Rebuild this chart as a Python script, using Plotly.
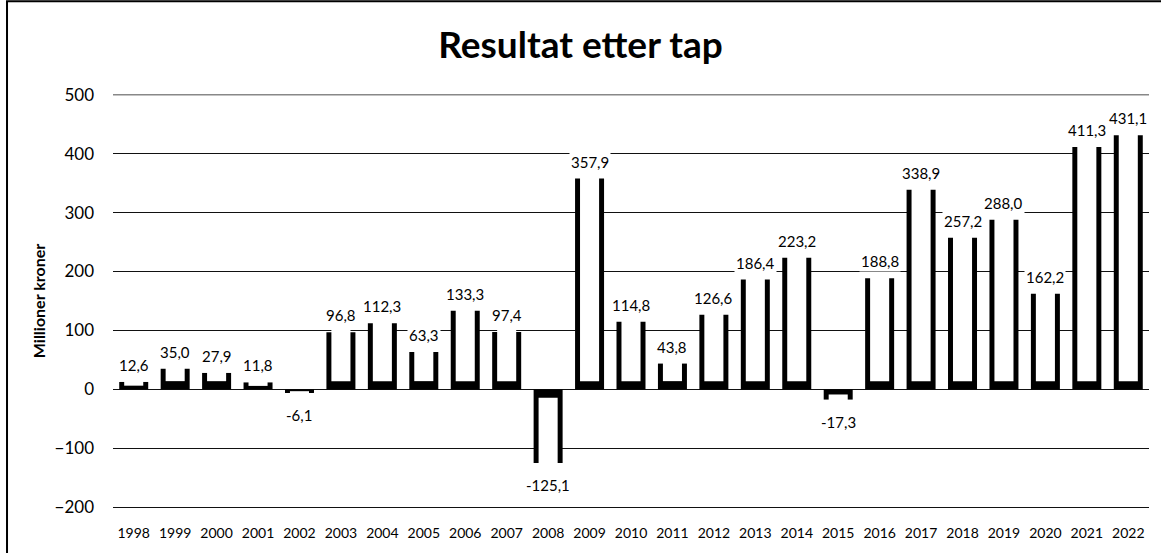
import plotly.graph_objects as go

years = [str(y) for y in range(1998, 2023)]
values = [12.6, 35.0, 27.9, 11.8, -6.1, 96.8, 112.3, 63.3, 133.3, 97.4, -125.1, 357.9,
          114.8, 43.8, 126.6, 186.4, 223.2, -17.3, 188.8, 338.9, 257.2, 288.0, 162.2, 411.3, 431.1]
title_text = "Resultat etter tap"
y_title = "Millioner kroner"
y_ticks = [-200, -100, 0, 100, 200, 300, 400, 500]

FONT = "Lato"

# inner white part (open-top U look)
sign = [1 if v >= 0 else -1 for v in values]
inner_base = [s * min(14, abs(v) * 0.5) for v, s in zip(values, sign)]
inner_top = [v + s * 6 for v, s in zip(values, sign)]
inner_h = [t - b for t, b in zip(inner_top, inner_base)]

fig = go.Figure()
fig.add_trace(go.Bar(x=years, y=values, width=0.7, marker=dict(color="black", line=dict(width=0)),
                     hoverinfo="skip"))
fig.add_trace(go.Bar(x=years, y=inner_h, base=inner_base, width=0.46,
                     marker=dict(color="white", line=dict(width=0)), hoverinfo="skip"))

for i, v in enumerate(values):
    fig.add_annotation(x=i, y=v, text=f"{v:.1f}".replace(".", ","), showarrow=False,
                       xref="x", yref="y",
                       yshift=17 if v >= 0 else -22, bgcolor="white", borderpad=1,
                       font=dict(family=FONT, size=15, color="black"))

# lighter top gridline
fig.add_shape(type="line", xref="paper", yref="y", x0=0, x1=1, y0=y_ticks[-1], y1=y_ticks[-1],
              line=dict(color="#888", width=1.5), layer="above")

fig.add_shape(type="rect", xref="paper", yref="paper", x0=-0.1023, x1=1.05, y0=-0.3, y1=1.2206,
              line=dict(color="black", width=2), fillcolor="rgba(0,0,0,0)", layer="above")

fig.update_layout(
    width=1161, height=553,
    margin=dict(l=113, r=12, t=93, b=36),
    paper_bgcolor="white", plot_bgcolor="white",
    barmode="overlay", showlegend=False,
    title=dict(text=f"<b>{title_text}</b>", x=0.5, xanchor="center", y=0.918, yanchor="middle",
               font=dict(family=FONT, size=37, color="black")),
    font=dict(family=FONT, color="black"),
    xaxis=dict(type="category", showgrid=False, showline=False, ticks="",
               tickfont=dict(family=FONT, size=14, color="black"), ticklabelstandoff=14,
               range=[-0.5, len(years) - 0.5]),
    yaxis=dict(range=[-203, 503], tickvals=y_ticks, showgrid=True,
               gridcolor="#111", gridwidth=1,
               zeroline=True, zerolinecolor="#111", zerolinewidth=1, showline=False, ticks="",
               tickfont=dict(family=FONT, size=17, color="black"), ticklabelstandoff=18,
               title=dict(text=f"<b>{y_title}</b>", font=dict(family=FONT, size=16, color="black"),
                          standoff=4)),
)

fig.write_html("out.html", config={"displayModeBar": False},
               post_script="document.body.style.margin='0';")
